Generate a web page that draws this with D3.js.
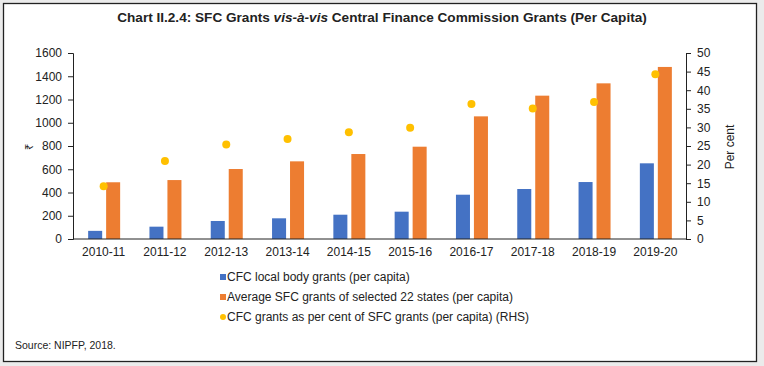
<!DOCTYPE html>
<html><head><meta charset="utf-8">
<script src="https://cdn.jsdelivr.net/npm/d3@7"></script>
<style>
body{margin:0;background:#ebebeb;}
svg{display:block;font-family:"Liberation Sans",Arial,sans-serif;}
</style></head>
<body><svg id="c" width="764" height="366"></svg>
<script>
const categories=["2010-11","2011-12","2012-13","2013-14","2014-15","2015-16","2016-17","2017-18","2018-19","2019-20"];
const cfcGrants=[70,106,155,178,209,235,381,430,490,651];
const sfcGrants=[488,507,602,668,731,794,1055,1233,1339,1480];
const cfcPercent=[14.2,21.0,25.4,26.9,28.7,29.9,36.3,35.1,36.8,44.3];
const leftTicks=[0,200,400,600,800,1000,1200,1400,1600];
const rightTicks=[0,5,10,15,20,25,30,35,40,45,50];
const seriesNames=["CFC local body grants (per capita)","Average SFC grants of selected 22 states (per capita)","CFC grants as per cent of SFC grants (per capita) (RHS)"];
const colors=["#4472C4","#ED7D31","#FFC000"];

const svg=d3.select("#c");
svg.append("rect").attr("x",3.5).attr("y",3.5).attr("width",753).attr("height",358).attr("fill","#fff").attr("stroke","#222").attr("stroke-width",1.3);

svg.append("text").attr("x",382).attr("y",22).attr("text-anchor","middle").attr("font-size",13.6).attr("font-weight","bold").attr("fill","#222")
 .call(t=>{t.append("tspan").text("Chart II.2.4: SFC Grants ");t.append("tspan").attr("font-style","italic").text("vis-à-vis");t.append("tspan").text(" Central Finance Commission Grants (Per Capita)");});

const L=73,R=686,T=53,B=239;
const x=d3.scaleBand().domain(categories).range([L,R]);
const y=d3.scaleLinear().domain([0,1600]).range([B,T]);
const y2=d3.scaleLinear().domain([0,50]).range([B,T]);
const sub=d3.scaleBand().domain([0,1]).range([-15.5,16.5]).paddingInner(0.22);

const g=svg.append("g");
g.selectAll(".b1").data(categories).join("rect").attr("x",d=>x(d)+x.bandwidth()/2+sub(0)).attr("width",sub.bandwidth())
 .attr("y",(d,i)=>y(cfcGrants[i])).attr("height",(d,i)=>B-y(cfcGrants[i])).attr("fill",colors[0]);
g.selectAll(".b2").data(categories).join("rect").attr("x",d=>x(d)+x.bandwidth()/2+sub(1)).attr("width",sub.bandwidth())
 .attr("y",(d,i)=>y(sfcGrants[i])).attr("height",(d,i)=>B-y(sfcGrants[i])).attr("fill",colors[1]);
g.selectAll(".dot").data(categories).join("circle").attr("cx",d=>x(d)+x.bandwidth()/2).attr("cy",(d,i)=>y2(cfcPercent[i])).attr("r",4).attr("fill",colors[2]);

const ax=svg.append("g").attr("transform",`translate(${L},0)`).call(d3.axisLeft(y).tickValues(leftTicks).tickFormat(d3.format("d")).tickSize(5).tickPadding(6));
const ax2=svg.append("g").attr("transform",`translate(${R},0)`).call(d3.axisRight(y2).tickValues(rightTicks).tickSize(5).tickPadding(6));
const axb=svg.append("g").attr("transform",`translate(0,${B})`).call(d3.axisBottom(x).tickSize(0).tickPadding(8));
axb.select(".domain").attr("d",`M${L},0H${R}`);
[ax,ax2,axb].forEach(a=>{a.selectAll("text").attr("font-size",12).attr("fill","#222").attr("font-family","Liberation Sans, Arial, sans-serif");a.selectAll("line,path").attr("stroke","#222");});

svg.append("text").attr("transform","translate(33,147) rotate(-90)").attr("text-anchor","middle").attr("font-size",11).attr("fill","#222").text("₹");
svg.append("text").attr("transform","translate(734,147) rotate(-90)").attr("text-anchor","middle").attr("font-size",12).attr("fill","#222").text("Per cent");

const lg=svg.append("g");
seriesNames.forEach((n,i)=>{
  const yy=277+i*20;
  if(i<2) lg.append("rect").attr("x",220).attr("y",yy-3).attr("width",6).attr("height",6).attr("fill",colors[i]);
  else lg.append("circle").attr("cx",223).attr("cy",yy).attr("r",3).attr("fill",colors[i]);
  lg.append("text").attr("x",227).attr("y",yy+4).attr("font-size",12).attr("fill","#222").text(n);
});

svg.append("text").attr("x",15).attr("y",349).attr("font-size",10.5).attr("fill","#222").text("Source: NIPFP, 2018.");
</script></body></html>
